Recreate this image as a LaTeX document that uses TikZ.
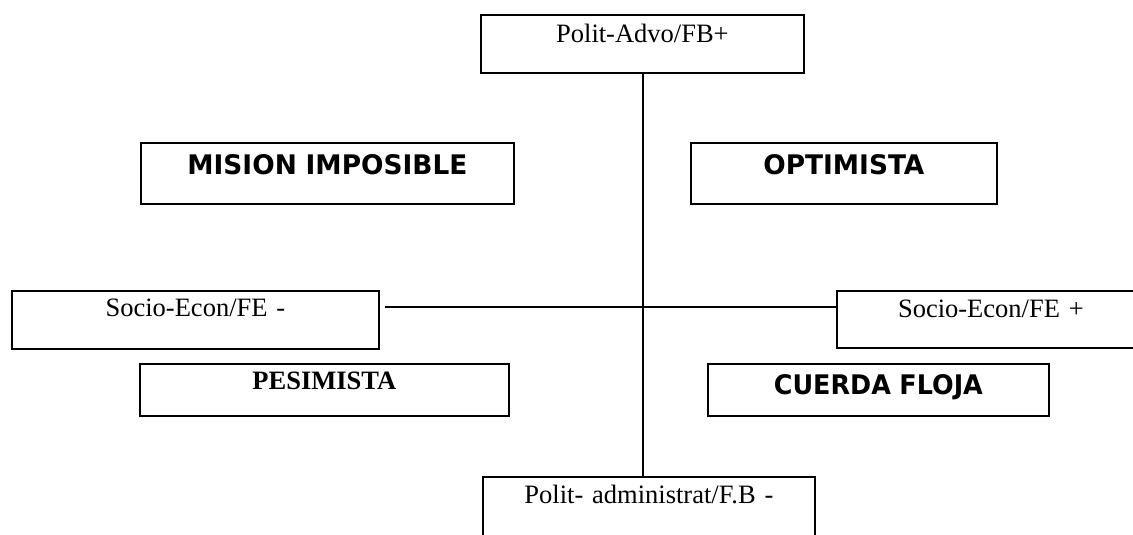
\documentclass[tikz,border=0pt]{standalone}
\usepackage{fontspec}
\setmainfont{Liberation Serif}
\newfontfamily\comicfont{DejaVu Sans}
\usetikzlibrary{calc}
\tikzset{
  box/.style={draw, line width=1.8pt, inner sep=0pt, anchor=north west, align=center,
    font=\fontsize{26.5pt}{30pt}\selectfont},
  link/.style={line width=1.4pt},
}
\newcommand{\comictext}[2]{\resizebox{#1}{20pt}{\comicfont\bfseries #2}}
\begin{document}
\begin{tikzpicture}[x=1pt,y=-1pt]
\useasboundingbox (0,0) rectangle (1133,535);
\fill[white] (0,0) rectangle (1133,535);
\clip (0,0) rectangle (1133,535);
% axis nodes
\node[box, text width=323pt, text height=27.7pt, text depth=30.3pt] (top) at (480,14) {Polit-Advo/FB+};
\node[box, text width=332pt, text height=27pt, text depth=42pt] (bottom) at (482,476) {Polit- administrat/F.B -};
\node[box, text width=367pt, text height=25.7pt, text depth=32.3pt] (left) at (11,290) {Socio-Econ/FE -};
\node[box, text width=308pt, text height=26.7pt, text depth=30.3pt] (right) at (836,290) {Socio-Econ/FE +};
% quadrant nodes
\node[box, text width=373pt, text height=32pt, text depth=29pt] (mision) at (140,142) {\comictext{280pt}{MISION IMPOSIBLE}};
\node[box, text width=306pt, text height=32pt, text depth=29pt] (optimista) at (690,142) {\comictext{161pt}{OPTIMISTA}};
\node[box, text width=369pt, text height=26pt, text depth=26pt] (pesimista) at (139,363) {\bfseries PESIMISTA};
\node[box, text width=341pt, text height=31pt, text depth=21pt] (cuerda) at (707,363) {\comictext{209pt}{CUERDA FLOJA}};
% connectors
\coordinate (vx) at (643,300);
\coordinate (hl) at (385,307);
\draw[link] (top.south -| vx) -- (bottom.north -| vx);
\draw[link] (hl) -- (hl -| right.west);
\end{tikzpicture}
\end{document}
